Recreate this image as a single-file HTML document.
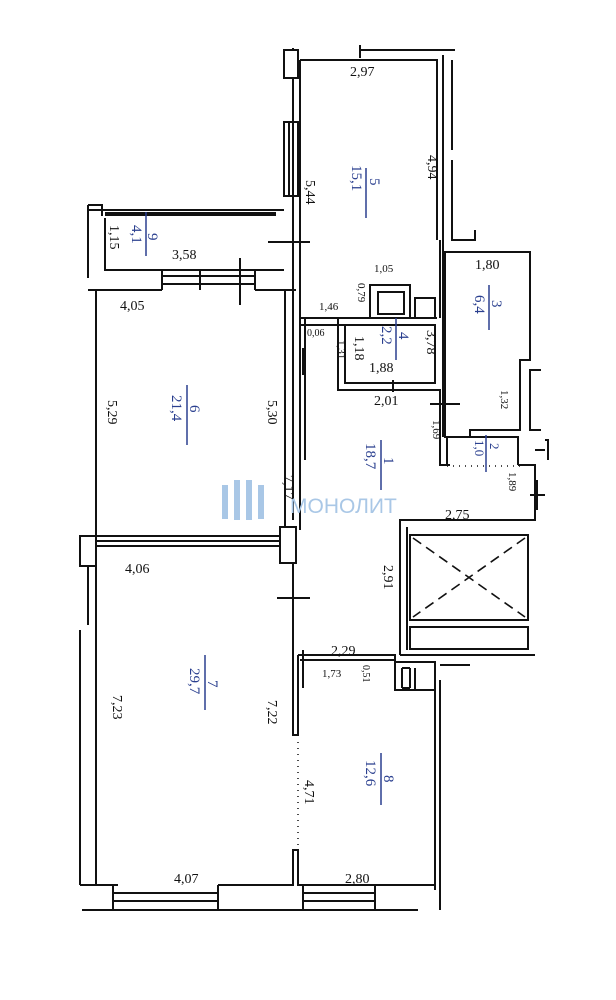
<!DOCTYPE html>
<html><head><meta charset="utf-8"><style>
html,body{margin:0;padding:0;background:#fff;}
svg{display:block}
text{font-family:"Liberation Serif",serif;fill:#111;font-size:14px}
.b{fill:#2a3f8f;font-size:15px}
</style></head><body>
<svg width="616" height="1000" viewBox="0 0 616 1000" xmlns="http://www.w3.org/2000/svg">
<g fill="none" stroke="#111" stroke-width="2">
<path d="M293 48 V520 M300 60 V318 M300 60 H437 V240 M443 55 V240 M360 50 H455 M360 45 V58"/>
<rect x="284" y="50" width="14" height="28" fill="#fff"/>
<rect x="284" y="122" width="14" height="74" fill="#fff"/>
<path d="M289 122V196 M293 122V196"/>
<path d="M452 60 V150 M452 160 V240 H475 V230"/>
<path d="M88 210 H284 M88 205V278 M105 218 V270 H284 M88 205 H102 V216"/>
<line x1="105" y1="214" x2="276" y2="214" stroke-width="4"/>
<path d="M162 270 V290 M255 270 V290 M162 276 H255 M162 284 H255 M200 270V290"/>
<path d="M268 242 H310 M240 258 V305"/>
<path d="M96 290 V536 H285 M88 290 H162 M255 290 H285 V527 M96 290H100 M286 290 H296"/>
<rect x="80" y="536" width="16" height="30" fill="#fff"/>
<rect x="280" y="527" width="16" height="36" fill="#fff"/>
<path d="M96 541 H280 M96 546 H280"/>
<path d="M88 566 V625 M80 630 V885 M96 566 V885 H118 M80 885 H113"/>
<path d="M82 910 H418 M113 885 V910 M218 885 V910 M113 893 H218 M113 901 H218 M303 885 V910 M375 885 V910 M303 893H375 M303 901 H375 M218 885 H293 V850 H298 V885 H435 V670 M375 885 H435 M435 670 V890 M440 690 V910"/>
<path d="M293 563 V735 H298 V655 M298 655 H395 V660 H300"/>
<path d="M277 598 H310 M303 650 V688 M293 580 V600"/>
<path d="M395 662 H435 V690 H395 Z M402 668 V688 M410 668 V688 M402 668H410 M402 688 H410 M415 668 V690"/>
<path d="M440 665 H470 M440 680 V910"/>
<path d="M300 318 H437 M300 325 H345 V383 H435 V325 H345 M338 325 V390 H440 V437 M338 318 V390"/>
<rect x="370" y="285" width="40" height="33" fill="#fff"/>
<rect x="378" y="292" width="26" height="22"/>
<rect x="415" y="298" width="20" height="20"/>
<path d="M410 285 V318 M440 240 V318 M443 240 V437"/>
<path d="M305 318 V460 M300 318 V530"/>
<path d="M445 252 H530 V360 H520 V430 H470 V437 H445 Z"/>
<path d="M541 370 H530 V430 H541 M545 440 H548 V460 M535 450 H545"/>
<path d="M447 437 H518 V465 M447 437 V465"/>
<path d="M440 437 V465 H450 M518 465 H535 V520 H400 V655 M407 527 V650"/>
<path d="M537 480 V510 M530 495 H545 M430 404 H460"/>
<rect x="410" y="535" width="118" height="85"/>
<path d="M413 538 L525 617 M525 538 L413 617" stroke-dasharray="10 6" stroke-width="1.6"/>
<rect x="410" y="627" width="118" height="22"/>
<path d="M400 655 H535 M303 348 V375"/>
<line x1="393" y1="380" x2="393" y2="392"/>
</g>
<path d="M298 742 V845" stroke="#111" stroke-dasharray="1 5" stroke-width="1.5"/>
<path d="M447 466 H520" stroke="#111" stroke-dasharray="1 5" stroke-width="1.5"/>
<g fill="#a9c7e6"><rect x="222" y="485" width="6" height="34"/><rect x="234" y="480" width="6" height="40"/><rect x="246" y="480" width="6" height="40"/><rect x="258" y="485" width="6" height="34"/></g>
<text x="290" y="513" style="font-family:'Liberation Sans',sans-serif;font-size:21px;fill:#a9c7e6">МОНОЛИТ</text>
<text x="350" y="76">2,97</text>
<text x="172" y="259">3,58</text>
<text x="120" y="310">4,05</text>
<text x="475" y="269">1,80</text>
<text x="374" y="272" style="font-size:11px">1,05</text>
<text x="319" y="310" style="font-size:11px">1,46</text>
<text x="307" y="336" style="font-size:10px">0,06</text>
<text x="369" y="372">1,88</text>
<text x="374" y="405">2,01</text>
<text x="125" y="573">4,06</text>
<text x="445" y="519">2,75</text>
<text x="331" y="655">2,29</text>
<text x="322" y="677" style="font-size:11px">1,73</text>
<text x="174" y="883">4,07</text>
<text x="345" y="883">2,80</text>
<g>
<text transform="translate(306,180) rotate(90)">5,44</text>
<text transform="translate(428,155) rotate(90)">4,94</text>
<text transform="translate(110,225) rotate(90)">1,15</text>
<text transform="translate(108,400) rotate(90)">5,29</text>
<text transform="translate(268,400) rotate(90)">5,30</text>
<text transform="translate(113,695) rotate(90)">7,23</text>
<text transform="translate(268,700) rotate(90)">7,22</text>
<text transform="translate(305,780) rotate(90)">4,71</text>
<text transform="translate(284,475) rotate(90)">7,17</text>
<text transform="translate(384,565) rotate(90)">2,91</text>
<text transform="translate(427,330) rotate(90)">3,78</text>
<text transform="translate(501,390) rotate(90)" style="font-size:11px">1,32</text>
<text transform="translate(433,420) rotate(90)" style="font-size:11px">1,69</text>
<text transform="translate(509,472) rotate(90)" style="font-size:11px">1,89</text>
<text transform="translate(355,336) rotate(90)">1,18</text>
<text transform="translate(338,340) rotate(90)" style="font-size:11px">1,31</text>
<text transform="translate(358,283) rotate(90)" style="font-size:11px">0,79</text>
<text transform="translate(363,665) rotate(90)" style="font-size:10px">0,51</text>
</g>
<g>
<text class="b" transform="translate(370,178) rotate(90)">5</text><text class="b" transform="translate(352,165) rotate(90)">15,1</text><line x1="366" y1="168" x2="366" y2="218" stroke="#2a3f8f" stroke-width="1.5"/>
<text class="b" transform="translate(148,233) rotate(90)">9</text><text class="b" transform="translate(132,225) rotate(90)">4,1</text><line x1="146" y1="212" x2="146" y2="256" stroke="#2a3f8f" stroke-width="1.5"/>
<text class="b" transform="translate(190,405) rotate(90)">6</text><text class="b" transform="translate(172,395) rotate(90)">21,4</text><line x1="187" y1="385" x2="187" y2="445" stroke="#2a3f8f" stroke-width="1.5"/>
<text class="b" transform="translate(208,680) rotate(90)">7</text><text class="b" transform="translate(190,668) rotate(90)">29,7</text><line x1="205" y1="655" x2="205" y2="710" stroke="#2a3f8f" stroke-width="1.5"/>
<text class="b" transform="translate(384,775) rotate(90)">8</text><text class="b" transform="translate(366,760) rotate(90)">12,6</text><line x1="381" y1="753" x2="381" y2="805" stroke="#2a3f8f" stroke-width="1.5"/>
<text class="b" transform="translate(384,457) rotate(90)">1</text><text class="b" transform="translate(366,443) rotate(90)">18,7</text><line x1="381" y1="440" x2="381" y2="490" stroke="#2a3f8f" stroke-width="1.5"/>
<text class="b" transform="translate(492,300) rotate(90)">3</text><text class="b" transform="translate(475,295) rotate(90)">6,4</text><line x1="489" y1="285" x2="489" y2="330" stroke="#2a3f8f" stroke-width="1.5"/>
<text class="b" transform="translate(399,332) rotate(90)">4</text><text class="b" transform="translate(382,326) rotate(90)">2,2</text><line x1="396" y1="318" x2="396" y2="360" stroke="#2a3f8f" stroke-width="1.5"/>
<text class="b" transform="translate(490,443) rotate(90)" style="font-size:13px">2</text><text class="b" transform="translate(475,440) rotate(90)" style="font-size:13px">1,0</text><line x1="486" y1="435" x2="486" y2="472" stroke="#2a3f8f" stroke-width="1.5"/>
</g>
</svg>
</body></html>
